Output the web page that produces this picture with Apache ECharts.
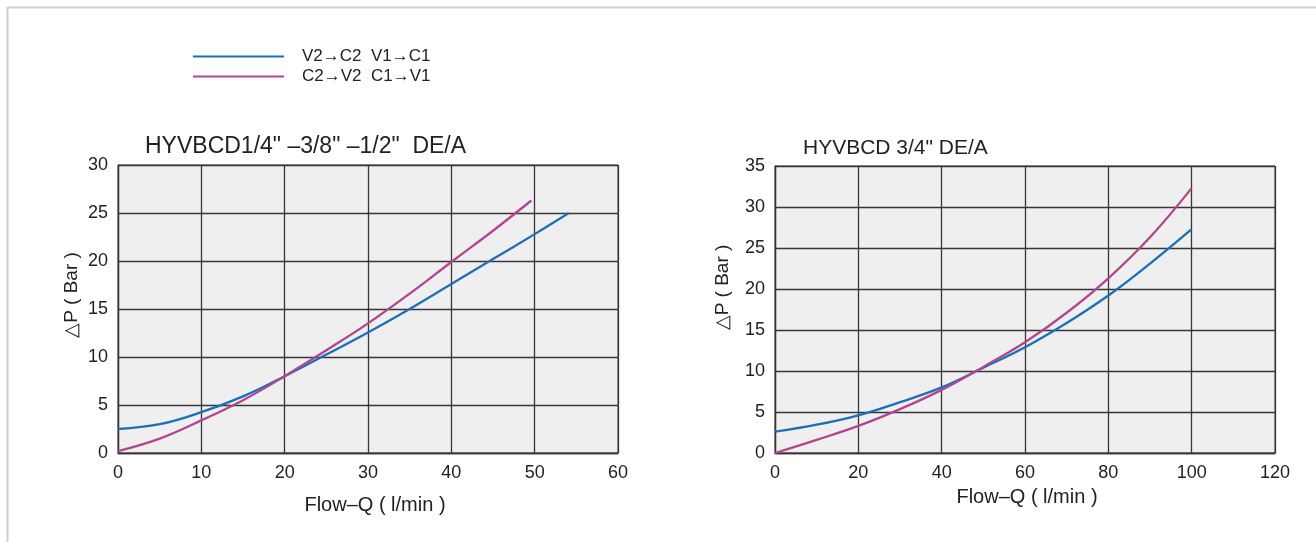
<!DOCTYPE html>
<html>
<head>
<meta charset="utf-8">
<script src="https://cdn.jsdelivr.net/npm/echarts@6/dist/echarts.min.js"></script>
<style>
html,body{margin:0;padding:0;background:#fff;}
#chart{width:1316px;height:542px;}
</style>
</head>
<body>
<div id="chart"></div>
<script>
// ---- data ----
const seriesNames = ['V2→C2  V1→C1', 'C2→V2  C1→V1'];
const titles = ['HYVBCD1/4" –3/8" –1/2"  DE/A', 'HYVBCD 3/4" DE/A'];
const xAxisName = 'Flow–Q ( l/min )';
const yAxisName = '△P ( Bar )';

// Left chart: HYVBCD 1/4"-3/8"-1/2"  [flow l/min, pressure drop bar]
const leftV2C2 = [[0,2.5],[5,3.0],[10,4.25],[15,5.9],[20,8.0],[25,10.25],[30,12.55],[35,15.0],[40,17.6],[45,20.2],[50,22.8],[54.1,25.0]];
const leftC2V2 = [[0,0.2],[5,1.5],[10,3.4],[15,5.5],[20,8.0],[25,10.7],[30,13.5],[35,16.6],[40,19.9],[45,23.15],[49.6,26.3]];

// Right chart: HYVBCD 3/4"
const rightV2C2 = [[0,2.6],[10,3.45],[20,4.6],[30,6.2],[40,8.0],[50,10.4],[60,12.9],[70,15.85],[80,19.2],[90,23.1],[100,27.3]];
const rightC2V2 = [[0,0],[10,1.6],[20,3.3],[30,5.35],[40,7.7],[50,10.5],[60,13.5],[70,17.1],[80,21.3],[90,26.3],[100,32.3]];

const leftX = {min:0, max:60, interval:10};
const leftY = {min:0, max:30, interval:5};
const rightX = {min:0, max:120, interval:20};
const rightY = {min:0, max:35, interval:5};

// ---- styles ----
const BLUE = '#1b70b9';
const PINK = '#b2458f';
const GRIDC = '#3a3535';
const FONT = '"Liberation Sans", Arial, sans-serif';

function xAxis(idx, r, gap, pad){
  return {
    type:'value', gridIndex:idx, min:r.min, max:r.max, interval:r.interval,
    name:xAxisName, nameLocation:'middle', nameGap:gap,
    nameTextStyle:{fontFamily:FONT, fontSize:20, color:'#222', padding:[0,0,0,pad]},
    axisLine:{show:true, lineStyle:{color:GRIDC, width:1.3}},
    axisTick:{show:false},
    axisLabel:{fontFamily:FONT, fontSize:18, color:'#222', margin:11},
    splitLine:{show:true, lineStyle:{color:GRIDC, width:1.3}}
  };
}
function yAxis(idx, r, gap, pad){
  return {
    type:'value', gridIndex:idx, min:r.min, max:r.max, interval:r.interval,
    name:yAxisName, nameLocation:'middle', nameGap:gap, nameRotate:90,
    nameTextStyle:{fontFamily:FONT, fontSize:19, color:'#222', padding:[0,0,0,pad]},
    axisLine:{show:true, lineStyle:{color:GRIDC, width:1.3}},
    axisTick:{show:false},
    axisLabel:{fontFamily:FONT, fontSize:18, color:'#222', margin:10},
    splitLine:{show:true, lineStyle:{color:GRIDC, width:1.3}}
  };
}
function line(name, data, color, idx){
  return {
    name:name, type:'line', xAxisIndex:idx, yAxisIndex:idx, data:data,
    smooth:0.4, showSymbol:false, symbol:'none',
    lineStyle:{color:color, width:2.3}, itemStyle:{color:color}
  };
}

const chart = echarts.init(document.getElementById('chart'), null, {renderer:'canvas'});
chart.setOption({
  animation:false,
  backgroundColor:'#ffffff',
  title:[
    {text:titles[0], left:140, top:130, textStyle:{fontFamily:FONT, fontSize:23, fontWeight:'normal', color:'#222'}},
    {text:titles[1], left:798, top:133, textStyle:{fontFamily:FONT, fontSize:21, fontWeight:'normal', color:'#222'}}
  ],
  legend:{
    data:seriesNames, orient:'vertical', left:188, top:43,
    icon:'rect', itemWidth:91, itemHeight:2, itemGap:3,
    textStyle:{fontFamily:FONT, fontSize:17, color:'#222', padding:[0,0,0,13]}
  },
  grid:[
    {left:118, top:165, width:500, height:288, show:true, backgroundColor:'#efefef', borderColor:GRIDC, borderWidth:1},
    {left:775, top:166, width:500, height:287, show:true, backgroundColor:'#efefef', borderColor:GRIDC, borderWidth:1}
  ],
  xAxis:[xAxis(0,leftX,42,14), xAxis(1,rightX,34,4)],
  yAxis:[yAxis(0,leftY,37,28), yAxis(1,rightY,43,44)],
  graphic:[
    {type:'line', shape:{x1:7, y1:7.5, x2:1316, y2:7.5}, style:{stroke:'#d0d0d0', lineWidth:2}, silent:true},
    {type:'line', shape:{x1:7.5, y1:7, x2:7.5, y2:542}, style:{stroke:'#d0d0d0', lineWidth:2}, silent:true}
  ],
  series:[
    line(seriesNames[0], leftV2C2, BLUE, 0),
    line(seriesNames[1], leftC2V2, PINK, 0),
    line(seriesNames[0], rightV2C2, BLUE, 1),
    line(seriesNames[1], rightC2V2, PINK, 1)
  ]
});
</script>
</body>
</html>
